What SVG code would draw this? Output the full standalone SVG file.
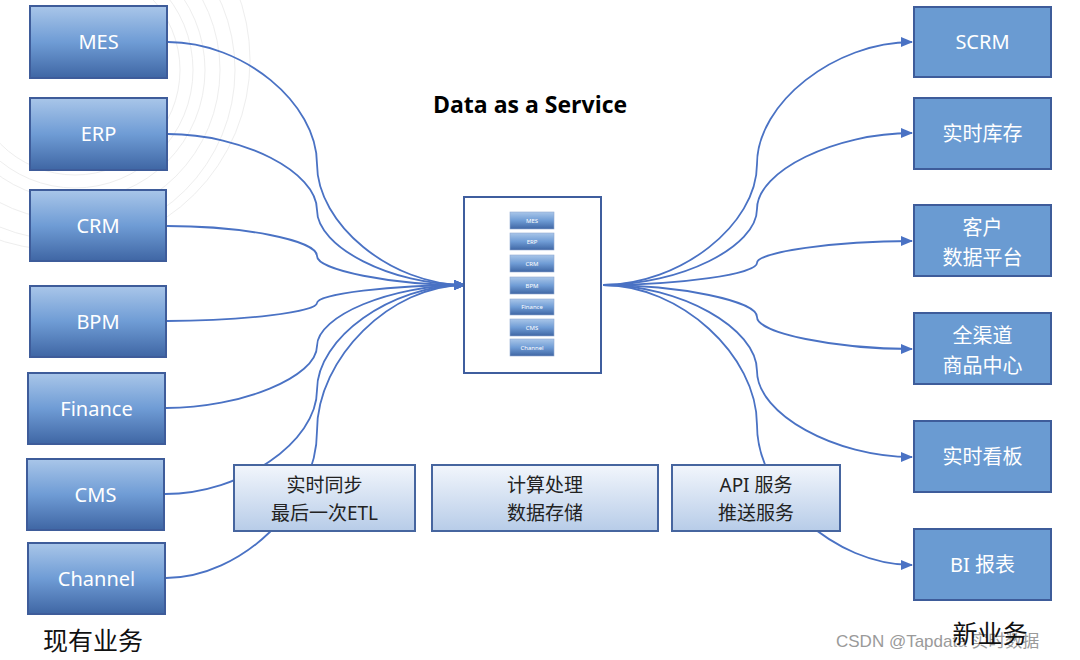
<svg xmlns="http://www.w3.org/2000/svg" width="1080" height="660" viewBox="0 0 1080 660">
<defs>
<linearGradient id="gBlue" x1="0" y1="0" x2="0" y2="1">
<stop offset="0" stop-color="#a9c6e9"/>
<stop offset="0.5" stop-color="#6f9cd5"/>
<stop offset="1" stop-color="#3f66a4"/>
</linearGradient>
<linearGradient id="gLight" x1="0" y1="0" x2="0" y2="1">
<stop offset="0" stop-color="#f2f6fc"/>
<stop offset="1" stop-color="#b7cce8"/>
</linearGradient>
<marker id="arr" viewBox="0 0 12 10" refX="11" refY="5" markerWidth="12" markerHeight="10" markerUnits="userSpaceOnUse" orient="auto">
<path d="M0,0 L12,5 L0,10 Z" fill="#4a72c4"/>
</marker>
<style>
.src rect{fill:url(#gBlue);stroke:#3e5c9a;stroke-width:2}
.dst rect{fill:#6a9bd2;stroke:#3e5c9a;stroke-width:2}
.mid rect{fill:url(#gLight);stroke:#46659f;stroke-width:2}
.mini rect{fill:url(#gBlue);stroke:#8fa9d0;stroke-width:0.6}
.wt{fill:#ffffff;font-family:"Noto Sans","Noto Sans CJK SC",sans-serif;font-size:20px;text-anchor:middle}
.bt{fill:#222222;font-family:"Noto Sans","Noto Sans CJK SC",sans-serif;font-size:19px;text-anchor:middle}
.mt{fill:#ffffff;font-family:"Noto Sans",sans-serif;font-size:6px;text-anchor:middle}
#connectors path{fill:none;stroke:#4a72c4;stroke-width:1.8}
.bg{fill:none;stroke:#eeeeee;stroke-width:1}
</style>
</defs>
<rect width="1080" height="660" fill="#ffffff"/>
<g id="background">
<circle class="bg" cx="75" cy="70" r="105"/>
<circle class="bg" cx="75" cy="70" r="118"/>
<circle class="bg" cx="75" cy="70" r="130"/>
<circle class="bg" cx="70" cy="70" r="150"/>
<circle class="bg" cx="65" cy="70" r="170"/>
<circle class="bg" cx="60" cy="60" r="190"/>
</g>
<g id="connectors">
<path d="M168,42 C243,42 317,103 317,164 C317,224 391,285 465,285" marker-end="url(#arr)"/>
<path d="M168,134 C243,134 317,172 317,210 C317,247 391,285 465,285" marker-end="url(#arr)"/>
<path d="M167,226 C242,226 317,240 317,256 C317,270 391,285 465,285" marker-end="url(#arr)"/>
<path d="M167,321 C242,321 317,312 317,303 C317,294 391,285 465,285" marker-end="url(#arr)"/>
<path d="M166,408 C241,408 317,377 317,346 C317,316 391,285 465,285" marker-end="url(#arr)"/>
<path d="M165,494 C241,494 317,442 317,390 C317,338 391,285 465,285" marker-end="url(#arr)"/>
<path d="M166,578 C241,578 317,505 317,431 C317,358 391,285 465,285" marker-end="url(#arr)"/>
<path d="M603,285 C680,285 757,225 757,164 C757,103 835,42 912,42" marker-end="url(#arr)"/>
<path d="M603,285 C680,285 757,247 757,209 C757,171 835,133 912,133" marker-end="url(#arr)"/>
<path d="M603,285 C680,285 757,274 757,263 C757,252 835,241 912,241" marker-end="url(#arr)"/>
<path d="M603,285 C680,285 757,301 757,317 C757,333 835,349 912,349" marker-end="url(#arr)"/>
<path d="M603,285 C680,285 757,328 757,371 C757,414 835,457 912,457" marker-end="url(#arr)"/>
<path d="M603,285 C680,285 757,355 757,425 C757,495 835,565 912,565" marker-end="url(#arr)"/>
</g>
<g id="n-mes" class="src"><rect x="30" y="6" width="137" height="72"/><text class="wt" x="98.5" y="49">MES</text></g>
<g id="n-erp" class="src"><rect x="30" y="98" width="137" height="72"/><text class="wt" x="98.5" y="141">ERP</text></g>
<g id="n-crm" class="src"><rect x="30" y="190" width="136" height="71"/><text class="wt" x="98" y="233">CRM</text></g>
<g id="n-bpm" class="src"><rect x="30" y="286" width="136" height="71"/><text class="wt" x="98" y="329">BPM</text></g>
<g id="n-finance" class="src"><rect x="28" y="373" width="137" height="71"/><text class="wt" x="96.5" y="416">Finance</text></g>
<g id="n-cms" class="src"><rect x="27" y="459" width="137" height="71"/><text class="wt" x="95.5" y="502">CMS</text></g>
<g id="n-channel" class="src"><rect x="28" y="543" width="137" height="71"/><text class="wt" x="96.5" y="586">Channel</text></g>
<g id="n-scrm" class="dst"><rect x="914" y="7" width="137" height="70"/><text class="wt" x="982.5" y="49">SCRM</text></g>
<g id="n-stock" class="dst"><rect x="914" y="98" width="137" height="71"/><text class="wt" x="982.5" y="141">实时库存</text></g>
<g id="n-cdp" class="dst"><rect x="914" y="205" width="137" height="71"/><text class="wt" x="982.5" y="235">客户</text><text class="wt" x="982.5" y="265">数据平台</text></g>
<g id="n-omni" class="dst"><rect x="914" y="313" width="137" height="71"/><text class="wt" x="982.5" y="343">全渠道</text><text class="wt" x="982.5" y="373">商品中心</text></g>
<g id="n-board" class="dst"><rect x="914" y="421" width="137" height="71"/><text class="wt" x="982.5" y="464">实时看板</text></g>
<g id="n-bi" class="dst"><rect x="914" y="529" width="137" height="71"/><text class="wt" x="982.5" y="572">BI 报表</text></g>
<g id="n-daas">
<rect x="464" y="197" width="137" height="176" fill="#ffffff" stroke="#3f5e9e" stroke-width="2"/>
<g class="mini">
<rect x="510" y="212" width="44" height="17"/><text class="mt" x="532" y="223">MES</text>
<rect x="510" y="233" width="44" height="17"/><text class="mt" x="532" y="244">ERP</text>
<rect x="510" y="255" width="44" height="17"/><text class="mt" x="532" y="266">CRM</text>
<rect x="510" y="277" width="44" height="17"/><text class="mt" x="532" y="288">BPM</text>
<rect x="510" y="299" width="44" height="16"/><text class="mt" x="532" y="309">Finance</text>
<rect x="510" y="319" width="44" height="17"/><text class="mt" x="532" y="330">CMS</text>
<rect x="510" y="339" width="44" height="17"/><text class="mt" x="532" y="350">Channel</text>
</g>
</g>
<g id="n-etl" class="mid"><rect x="234" y="465" width="181" height="66"/><text class="bt" x="324.5" y="492">实时同步</text><text class="bt" x="324.5" y="520">最后一次ETL</text></g>
<g id="n-compute" class="mid"><rect x="432" y="465" width="226" height="66"/><text class="bt" x="545" y="492">计算处理</text><text class="bt" x="545" y="520">数据存储</text></g>
<g id="n-api" class="mid"><rect x="672" y="465" width="168" height="66"/><text class="bt" x="756" y="492">API 服务</text><text class="bt" x="756" y="520">推送服务</text></g>
<text x="530" y="113" font-family="'Open Sans','Noto Sans',sans-serif" font-size="23" font-weight="bold" text-anchor="middle" fill="#000000">Data as a Service</text>
<text x="836" y="647" font-family="'Liberation Sans','Noto Sans CJK SC',sans-serif" font-size="17" fill="#9a9a9a">CSDN @Tapdata 实时数据</text>
<text x="93" y="650" font-family="'Noto Sans CJK SC',sans-serif" font-size="25" text-anchor="middle" fill="#111111">现有业务</text>
<text x="990" y="643" font-family="'Noto Sans CJK SC',sans-serif" font-size="25" text-anchor="middle" fill="#111111">新业务</text>
</svg>
